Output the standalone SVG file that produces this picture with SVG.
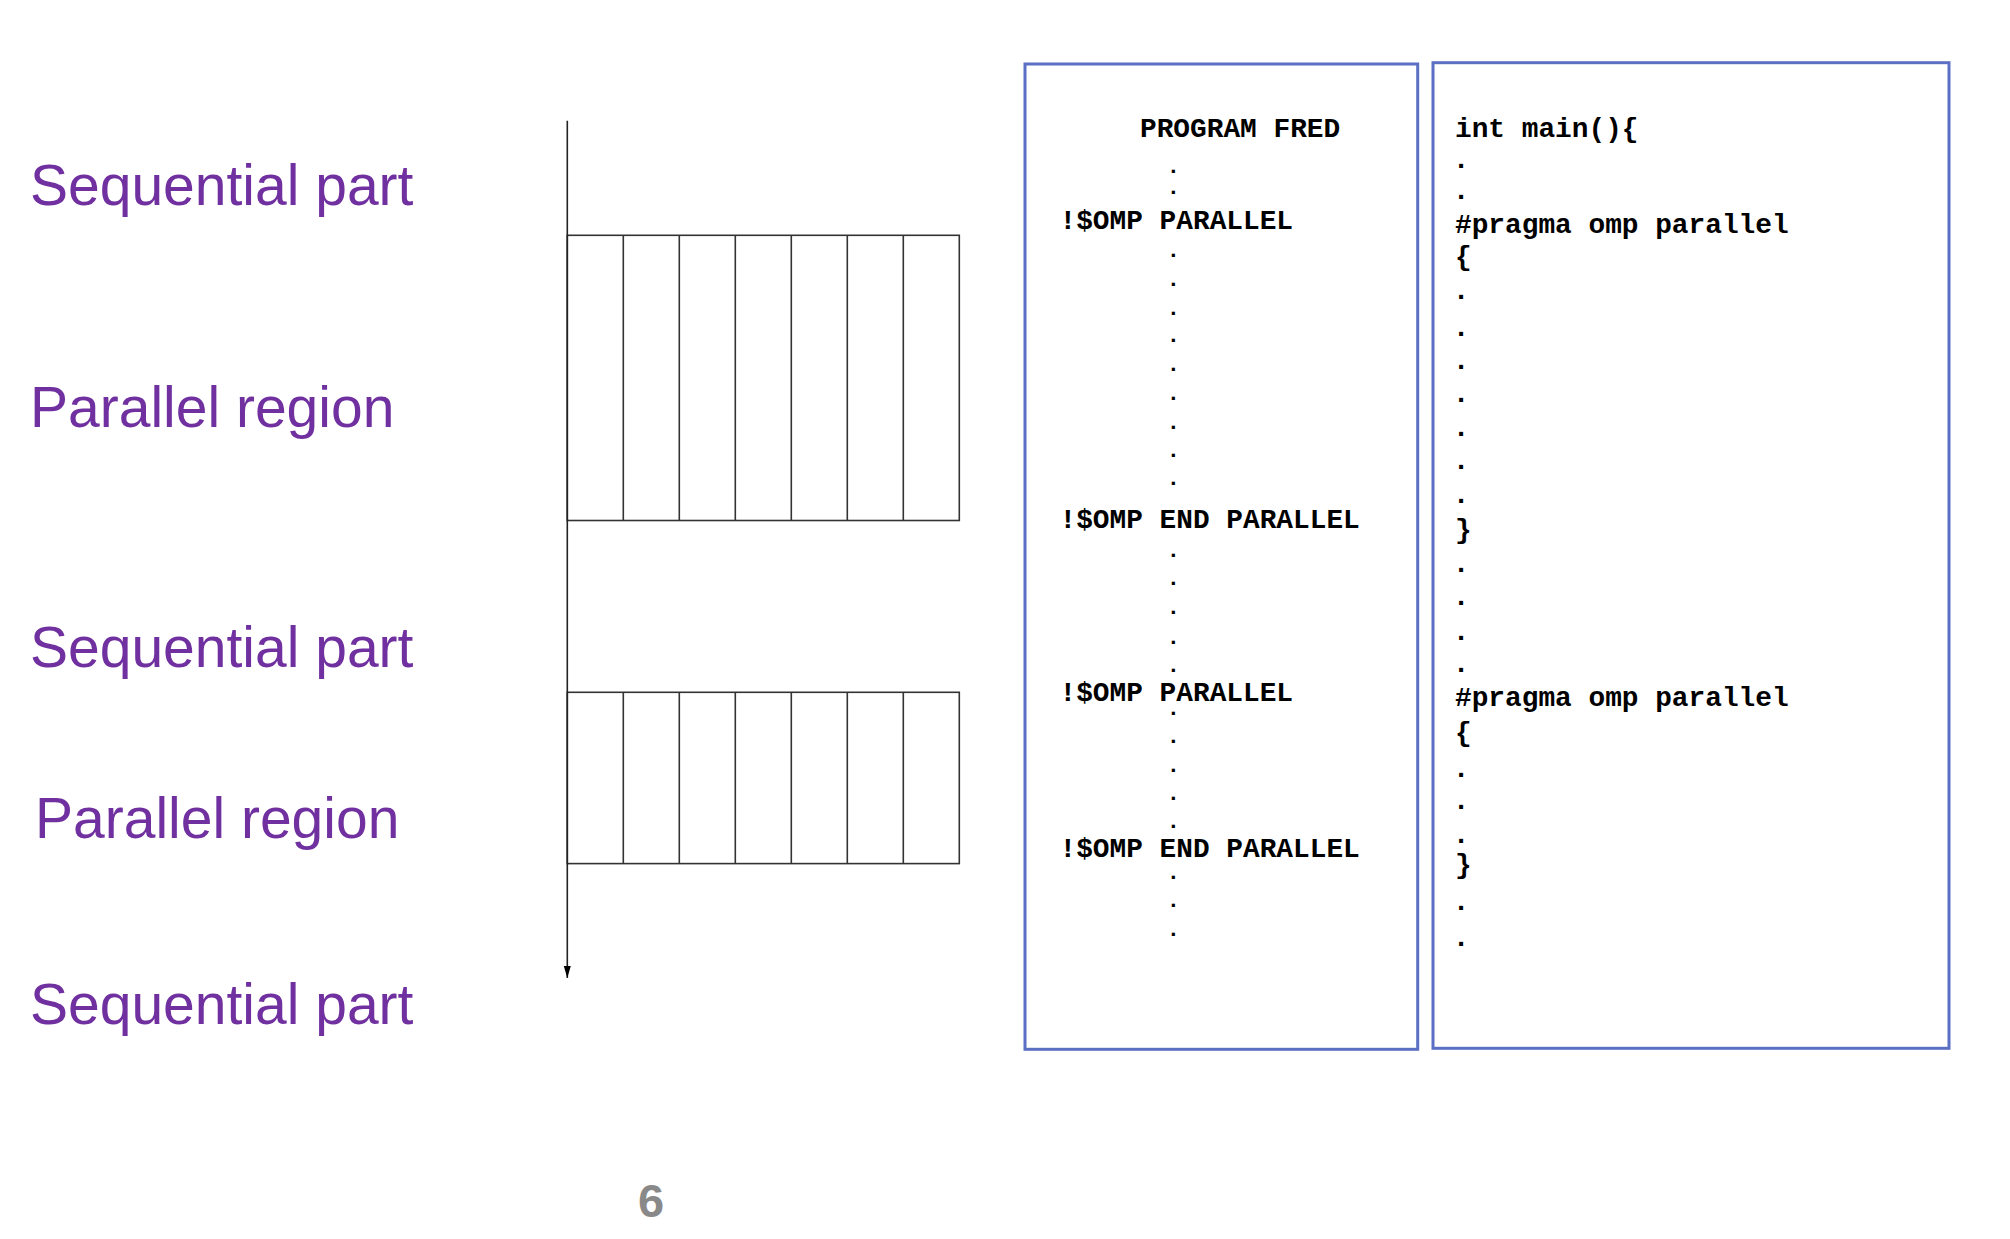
<svg xmlns="http://www.w3.org/2000/svg" width="2010" height="1239" viewBox="0 0 2010 1239">
<style>
.lbl{font-family:"Liberation Sans",Arial,sans-serif;font-size:57px;fill:#7030A0}
.code{font-family:"Liberation Mono","Courier New",monospace;font-size:27.8px;font-weight:bold;fill:#000}
.dot{font-family:"Liberation Mono","Courier New",monospace;font-size:27.8px;font-weight:bold;fill:#000;text-anchor:middle}
.sdot{font-family:"Liberation Mono","Courier New",monospace;font-size:22px;font-weight:bold;fill:#000;text-anchor:middle}
.cell{fill:none;stroke:#333;stroke-width:1.6}
.box{fill:#fff;stroke:#5B70C4;stroke-width:3}
.num{font-family:"Liberation Sans",Arial,sans-serif;font-size:47px;font-weight:bold;fill:#898989}
</style>
<defs>
<marker id="arrow" markerUnits="userSpaceOnUse" markerWidth="13" markerHeight="8" refX="12" refY="4" orient="auto" viewBox="0 0 13 8">
<path d="M0,0.5 L12,4 L0,7.5 Z" fill="#000"/>
</marker>
</defs>
<rect width="2010" height="1239" fill="#fff"/>

<g id="labels">
<text class="lbl" x="30" y="204.6">Sequential part</text>
<text class="lbl" x="30" y="426.5">Parallel region</text>
<text class="lbl" x="30" y="666.5">Sequential part</text>
<text class="lbl" x="35" y="838">Parallel region</text>
<text class="lbl" x="30" y="1024.2">Sequential part</text>
</g>

<g id="parallel-region-1">
<rect class="cell" x="567.3" y="235.3" width="392" height="285.2"/>
<path class="cell" d="M623.3,235.3V520.5M679.3,235.3V520.5M735.3,235.3V520.5M791.3,235.3V520.5M847.3,235.3V520.5M903.3,235.3V520.5"/>
</g>

<g id="parallel-region-2">
<rect class="cell" x="567.3" y="692.3" width="392" height="171.3"/>
<path class="cell" d="M623.3,692.3V863.6M679.3,692.3V863.6M735.3,692.3V863.6M791.3,692.3V863.6M847.3,692.3V863.6M903.3,692.3V863.6"/>
</g>

<g id="connectors">
<line x1="567.3" y1="120.7" x2="567.3" y2="978" stroke="#222" stroke-width="1.6" marker-end="url(#arrow)"/>
</g>

<g id="fortran-box">
<rect class="box" x="1025" y="64" width="392.7" height="985.3"/>
<text class="code" x="1140" y="136.5">PROGRAM FRED</text>
<text class="code" x="1059.5" y="229">!$OMP PARALLEL</text>
<text class="code" x="1059.5" y="528">!$OMP END PARALLEL</text>
<text class="code" x="1059.5" y="700.8">!$OMP PARALLEL</text>
<text class="code" x="1059.5" y="856.6">!$OMP END PARALLEL</text>
<g>
<text class="sdot" x="1173.3" y="172.6">.</text>
<text class="sdot" x="1173.3" y="194.3">.</text>
<text class="sdot" x="1173.3" y="256.7">.</text>
<text class="sdot" x="1173.3" y="285.5">.</text>
<text class="sdot" x="1173.3" y="314.8">.</text>
<text class="sdot" x="1173.3" y="342.4">.</text>
<text class="sdot" x="1173.3" y="371.2">.</text>
<text class="sdot" x="1173.3" y="400">.</text>
<text class="sdot" x="1173.3" y="428.5">.</text>
<text class="sdot" x="1173.3" y="456.9">.</text>
<text class="sdot" x="1173.3" y="485">.</text>
<text class="sdot" x="1173.3" y="556.8">.</text>
<text class="sdot" x="1173.3" y="585.3">.</text>
<text class="sdot" x="1173.3" y="614.1">.</text>
<text class="sdot" x="1173.3" y="643.7">.</text>
<text class="sdot" x="1173.3" y="672.1">.</text>
<text class="sdot" x="1173.3" y="714.7">.</text>
<text class="sdot" x="1173.3" y="743.4">.</text>
<text class="sdot" x="1173.3" y="771.8">.</text>
<text class="sdot" x="1173.3" y="800.2">.</text>
<text class="sdot" x="1173.3" y="828.2">.</text>
<text class="sdot" x="1173.3" y="879.1">.</text>
<text class="sdot" x="1173.3" y="906.7">.</text>
<text class="sdot" x="1173.3" y="936.3">.</text>
</g>
</g>

<g id="c-box">
<rect class="box" x="1433" y="62.7" width="516" height="985.6"/>
<text class="code" x="1455" y="136.7">int main(){</text>
<text class="code" x="1455" y="233">#pragma omp parallel</text>
<text class="code" x="1455" y="265">{</text>
<text class="code" x="1455" y="538">}</text>
<text class="code" x="1455" y="706">#pragma omp parallel</text>
<text class="code" x="1455" y="741">{</text>
<text class="code" x="1455" y="873">}</text>
<g>
<text class="dot" x="1461" y="168">.</text>
<text class="dot" x="1461" y="198.7">.</text>
<text class="dot" x="1461" y="299">.</text>
<text class="dot" x="1461" y="335.7">.</text>
<text class="dot" x="1461" y="369.3">.</text>
<text class="dot" x="1461" y="402">.</text>
<text class="dot" x="1461" y="435.6">.</text>
<text class="dot" x="1461" y="469.2">.</text>
<text class="dot" x="1461" y="502.7">.</text>
<text class="dot" x="1461" y="571.8">.</text>
<text class="dot" x="1461" y="605">.</text>
<text class="dot" x="1461" y="639.7">.</text>
<text class="dot" x="1461" y="672.1">.</text>
<text class="dot" x="1461" y="776.6">.</text>
<text class="dot" x="1461" y="809.3">.</text>
<text class="dot" x="1461" y="842.8">.</text>
<text class="dot" x="1461" y="909.8">.</text>
<text class="dot" x="1461" y="946.1">.</text>
</g>
</g>

<g id="page-number">
<text class="num" x="638" y="1217">6</text>
</g>
</svg>
